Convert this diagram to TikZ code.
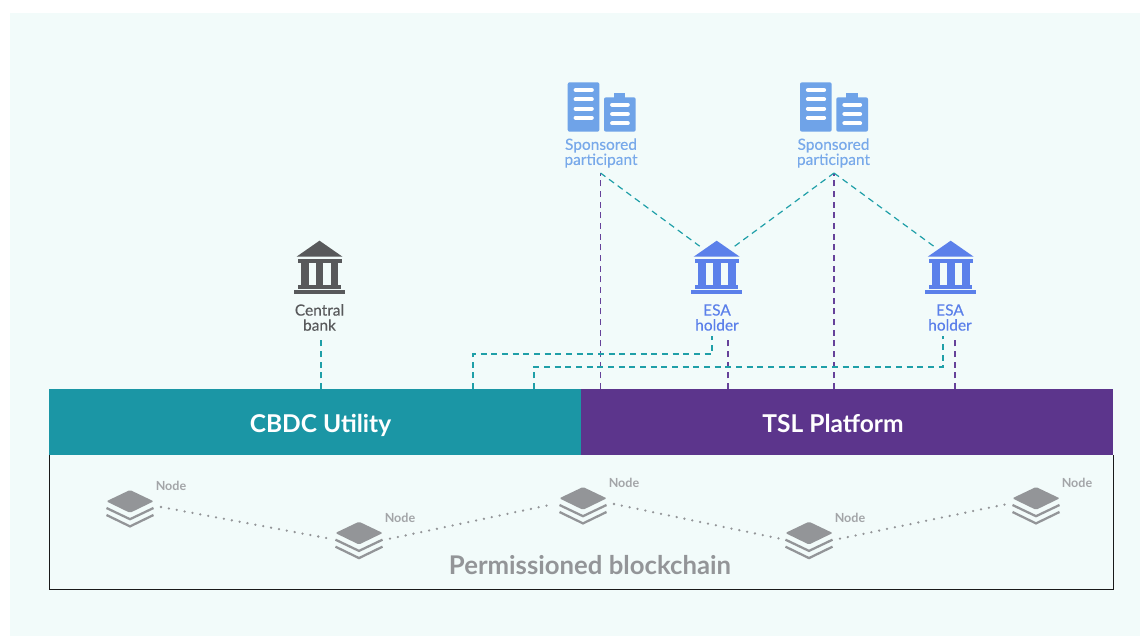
\documentclass[tikz,border=0pt]{standalone}
\usepackage{fontspec}
\setmainfont{Lato}
\newfontfamily\lblfont[FakeBold=0.25]{Lato}
\definecolor{panel}{HTML}{F2FBFA}
\definecolor{tealbar}{HTML}{1B96A5}
\definecolor{purplebar}{HTML}{5C358C}
\definecolor{tealline}{HTML}{1F9FA8}
\definecolor{purpleline}{HTML}{66429A}
\definecolor{bldg}{HTML}{6FA3E8}
\definecolor{bldgtext}{HTML}{78A9EA}
\definecolor{esa}{HTML}{5B80EA}
\definecolor{central}{HTML}{58595B}
\definecolor{stack}{HTML}{939598}
\tikzset{
  x=0.75pt, y=-0.75pt,
  lbl/.style={align=center, font=\fontsize{11.6}{11.3}\selectfont\lblfont, inner sep=0pt},
  nodelbl/.style={font=\fontsize{9.4}{10}\selectfont\bfseries, text=stack!85, inner sep=0pt},
  bar/.style={minimum width=399pt, minimum height=49.5pt, inner sep=0pt},
  bartext/.style={inner sep=0pt, anchor=base, text=white, font=\fontsize{18.4}{20}\selectfont\bfseries},
  tealdash/.style={draw=tealline, line width=0.9pt, dash pattern=on 4.6pt off 3.4pt},
  purpledash/.style={draw=purpleline, line width=1pt, dash pattern=on 4.6pt off 3.4pt},
  dotlink/.style={draw=stack, line width=1.9pt, line cap=round, dash pattern=on 0pt off 6pt},
  bank/.pic={
    \coordinate (-l) at (-17,5.5);
    \coordinate (-r) at (18,5.5);
    \fill[pic actions] (0,0) -- (23,16) -- (-23,16) -- cycle;
    \fill[pic actions] (-22,18.7) rectangle (22,22.7);
    \fill[pic actions] (-18.7,22) rectangle (-11,45);
    \fill[pic actions] (-3.7,22) rectangle (3.9,45);
    \fill[pic actions] (11,22) rectangle (18.8,45);
    \fill[pic actions] (-22,44.5) rectangle (21.5,48);
    \fill[pic actions] (-25.5,49.5) rectangle (25.5,53.5);
  },
  building/.pic={
    \fill[bldg, rounded corners=1.5pt] (0,0) rectangle (31.7,49.4);
    \fill[bldg, rounded corners=1.5pt] (36.3,15) rectangle (68,49.4);
    \fill[bldg] (46.3,11) rectangle (57.6,16);
    \foreach \yy in {7.7,17,26.4,35.4}
      \draw[white, line width=3.2pt, line cap=round] (8,\yy) -- (24,\yy);
    \foreach \yy in {22.4,31.7,41}
      \draw[white, line width=3.2pt, line cap=round] (44.5,\yy) -- (60,\yy);
  },
  layers/.pic={
    \coordinate (-l) at (-29,17);
    \coordinate (-r) at (31,17);
    \fill[stack, rounded corners=1pt] (0,0) -- (23.7,11.3) -- (0,22.8) -- (-23.7,11.3) -- cycle;
    \draw[stack, line width=1.7pt] (-23.5,18) -- (0,29.2) -- (23.5,18);
    \draw[stack, line width=1.7pt] (-23.5,25) -- (0,36.4) -- (23.5,25);
  }
}
\begin{document}
\begin{tikzpicture}
\useasboundingbox (0,0) rectangle (1140,636);
\fill[white] (0,0) rectangle (1140,636);
\fill[panel] (10,13) rectangle (1140,636);

% bars and box
\node[fill=panel, minimum width=798pt, minimum height=100.5pt, inner sep=0pt, anchor=north west] (chain) at (49,455) {};
\draw[black!90, line width=0.75pt] (chain.north west) -- (chain.south west) -- (chain.south east) -- (chain.north east);
\node[bar, fill=tealbar, anchor=north west] (cbdc) at (49,389) {};
\node[bar, fill=purplebar, anchor=north west] (tsl) at (581,389) {};
\node[bartext] (cbdct) at (320.5,432) {CBDC Utility};
\node[bartext] (tslt) at (833,432) {TSL Platform};
\node[font=\fontsize{19.3}{22}\selectfont\bfseries, text=stack, inner sep=0pt] (perm) at (590,565) {Permissioned blockchain};

% icons
\pic[fill=central] (cb) at (319.5,240.7) {bank};
\pic[fill=esa] (e1) at (716.7,240.7) {bank};
\pic[fill=esa] (e2) at (950.7,240.7) {bank};
\pic (s1) at (567.7,82.3) {building};
\pic (s2) at (800,82.3) {building};

% labels
\node[lbl, text=central] (cbl) at (319.5,317.5) {Central\\bank};
\node[lbl, text=esa] (e1l) at (717,317.5) {ESA\\holder};
\node[lbl, text=esa] (e2l) at (950,317.5) {ESA\\holder};
\node[lbl, text=bldgtext] (s1l) at (601,153) {Sponsored\\participant};
\node[lbl, text=bldgtext] (s2l) at (833.5,153) {Sponsored\\participant};

% connector ends
\coordinate (p1) at (600.5,173);
\coordinate (p2) at (834,173);
\coordinate (cb1) at (321,336);
\coordinate (t1) at (712,336);
\coordinate (t2) at (943,336);
\coordinate (v1) at (728,336);
\coordinate (v2) at (955,336);
\coordinate (d1) at (473,354);
\coordinate (d2) at (534,367);

% purple verticals
\draw[purpledash] (p1 |- tsl.north) -- (p1);
\draw[purpledash] (p2 |- tsl.north) -- (p2);
\draw[purpledash] (v1 |- tsl.north) -- (v1);
\draw[purpledash] (v2 |- tsl.north) -- (v2);

% teal lines
\draw[tealdash] (cb1 |- cbdc.north) -- (cb1);
\draw[tealdash] (d1 |- cbdc.north) -- (d1) -| (t1);
\draw[tealdash] (d2 |- cbdc.north) -- (d2) -| (t2);
\draw[tealdash] (p1) -- (e1-l);
\draw[tealdash] (e1-r) -- (p2);
\draw[tealdash] (p2) -- (e2-l);

% blockchain layer
\pic (n1) at (130,490) {layers};
\pic (n2) at (359,521.7) {layers};
\pic (n3) at (583,487) {layers};
\pic (n4) at (809,521.7) {layers};
\pic (n5) at (1036,487) {layers};
\node[nodelbl] (n1l) at (171,486) {Node};
\node[nodelbl] (n2l) at (400,518) {Node};
\node[nodelbl] (n3l) at (624,483) {Node};
\node[nodelbl] (n4l) at (850,518) {Node};
\node[nodelbl] (n5l) at (1077,483) {Node};
\draw[dotlink] (n1-r) -- (n2-l);
\draw[dotlink] (n2-r) -- (n3-l);
\draw[dotlink] (n3-r) -- (n4-l);
\draw[dotlink] (n4-r) -- (n5-l);
\end{tikzpicture}
\end{document}
